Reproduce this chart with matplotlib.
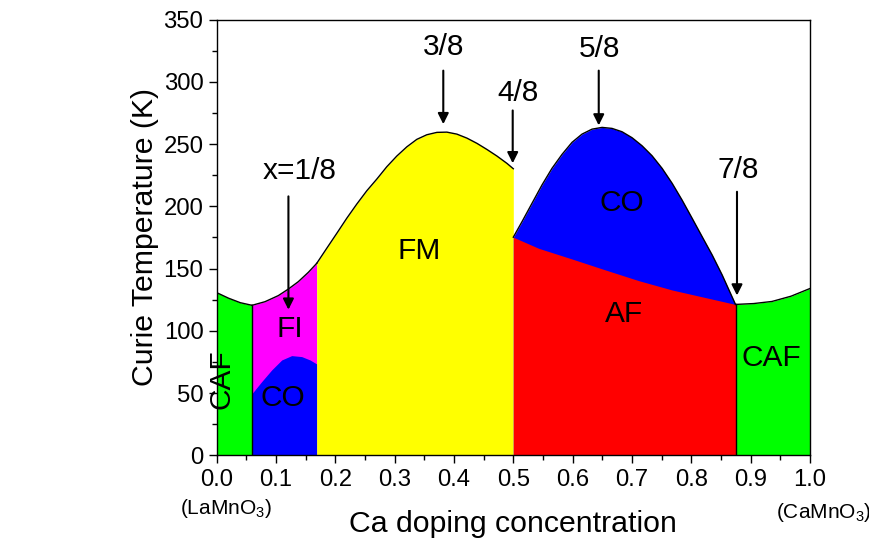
import matplotlib
matplotlib.use("Agg")
import matplotlib.pyplot as plt
from matplotlib.ticker import MultipleLocator

plt.rcParams["font.family"] = ["Liberation Sans", "DejaVu Sans"]
plt.rcParams["mathtext.fontset"] = "custom"
plt.rcParams["mathtext.rm"] = "Liberation Sans"

# Phase boundaries of La(1-x)Ca(x)MnO3: (x, T in K)
caf_left_x = [0.0, 0.0202, 0.0399, 0.0596]
caf_left_t = [130.7, 126.2, 122.6, 120.5]

fi_top_x = [0.0596, 0.0815, 0.104, 0.121, 0.1377, 0.1546, 0.1687]
fi_top_t = [120.5, 123.4, 128.3, 133.6, 139.5, 147.0, 154.2]

co_left_x = [0.0601, 0.0759, 0.0928, 0.1097, 0.1265, 0.1434, 0.1574, 0.1687]
co_left_t = [49.9, 59.2, 68.6, 76.6, 80.1, 79.3, 76.6, 73.4]

fm_top_x = [0.1687, 0.1856, 0.2025, 0.2193, 0.2362, 0.2531, 0.27, 0.2868, 0.3037, 0.3206,
            0.3374, 0.3543, 0.3712, 0.388, 0.4049, 0.4218, 0.4387, 0.4555, 0.4724, 0.4893, 0.5]
fm_top_t = [154.2, 166.3, 178.3, 190.4, 201.8, 212.5, 221.9, 231.8, 240.4, 247.8,
            253.8, 257.5, 259.4, 259.6, 258.0, 254.8, 250.6, 245.7, 240.4, 234.5, 230.2]

co_right_x = [0.5, 0.5146, 0.5315, 0.5483, 0.5652, 0.5821, 0.599, 0.6158, 0.6327, 0.6496, 0.6664,
              0.6833, 0.7002, 0.7171, 0.7339, 0.7508, 0.7677, 0.7845, 0.8014, 0.8183, 0.8352,
              0.852, 0.8745]
co_right_t = [175.2, 187.6, 202.4, 217.1, 230.5, 241.7, 251.4, 258.0, 262.0, 263.4, 262.6,
              259.9, 255.1, 248.6, 240.6, 230.5, 218.5, 205.0, 190.4, 175.6, 160.9,
              144.9, 121.2]

af_top_x = [0.5, 0.5427, 0.599, 0.6552, 0.7114, 0.7677, 0.8239, 0.8745]
af_top_t = [175.2, 166.3, 157.7, 148.9, 140.3, 132.8, 126.7, 121.2]

caf_right_x = [0.8745, 0.905, 0.936, 0.968, 1.0]
caf_right_t = [121.2, 121.9, 123.6, 127.8, 134.0]

# arrows: (x, start T, end T, label, label x, label T)
arrows = [
    (0.121, 208, 117, "x=1/8", 0.139, 228),
    (0.382, 309, 266, "3/8", 0.382, 328),
    (0.499, 277, 234.6, "4/8", 0.508, 291),
    (0.644, 309, 265, "5/8", 0.645, 326),
    (0.877, 211.7, 128.4, "7/8", 0.879, 229),
]

FS = 21.5

fig = plt.figure(figsize=(8.7, 5.44), dpi=100)
ax = fig.add_axes([0.249, 0.163, 0.682, 0.801])

ax.fill_between(caf_left_x, 0, caf_left_t, color="#00ff00", lw=0)
ax.fill_between(fi_top_x, 0, fi_top_t, color="#ff00ff", lw=0)
ax.fill_between(co_left_x, 0, co_left_t, color="#0000ff", lw=0)
ax.fill_between(fm_top_x, 0, fm_top_t, color="#ffff00", lw=0)
ax.fill_between(co_right_x, 0, co_right_t, color="#0000ff", lw=0)
ax.fill_between(af_top_x, 0, af_top_t, color="#ff0000", lw=0)
ax.fill_between(caf_right_x, 0, caf_right_t, color="#00ff00", lw=0)

# outline of the upper envelope
for xs, ts in [(caf_left_x, caf_left_t), (fi_top_x, fi_top_t), (fm_top_x, fm_top_t),
               (co_right_x, co_right_t), (caf_right_x, caf_right_t)]:
    ax.plot(xs, ts, color="k", lw=1)
ax.plot([caf_left_x[-1]] * 2, [0, caf_left_t[-1]], color="k", lw=1)
ax.plot([caf_right_x[0]] * 2, [0, caf_right_t[0]], color="k", lw=1)

for x, t0, t1, lab, lx, lt in arrows:
    ax.annotate("", xy=(x, t1), xytext=(x, t0),
                arrowprops=dict(arrowstyle="-|>", color="k", lw=1.5,
                                mutation_scale=16, shrinkA=0, shrinkB=0))
    ax.text(lx, lt, lab, fontsize=FS, ha="center", va="center")

ax.text(0.341, 164, "FM", fontsize=FS, ha="center", va="center")
ax.text(0.123, 101.5, "FI", fontsize=FS, ha="center", va="center")
ax.text(0.112, 46, "CO", fontsize=FS, ha="center", va="center")
ax.text(0.683, 203, "CO", fontsize=FS, ha="center", va="center")
ax.text(0.686, 113.5, "AF", fontsize=FS, ha="center", va="center")
ax.text(0.935, 78, "CAF", fontsize=FS, ha="center", va="center")
ax.text(0.008, 61, "CAF", fontsize=FS, ha="center", va="center", rotation=90)

ax.set_xlim(0, 1.0)
ax.set_ylim(0, 350)
ax.xaxis.set_major_locator(MultipleLocator(0.1))
ax.xaxis.set_minor_locator(MultipleLocator(0.05))
ax.yaxis.set_major_locator(MultipleLocator(50))
ax.yaxis.set_minor_locator(MultipleLocator(25))
ax.xaxis.set_major_formatter(lambda v, p: f"{v:.1f}")
ax.tick_params(which="major", direction="out", length=6, width=1, labelsize=17.2)
ax.tick_params(which="minor", direction="out", length=3.5, width=1)
for s in ax.spines.values():
    s.set_linewidth(1)

ax.set_xlabel("Ca doping concentration", fontsize=21.8, labelpad=14)
ax.set_ylabel("Curie Temperature (K)", fontsize=21.8, labelpad=3)

fig.text(226 / 870, 1 - 508 / 544, "(LaMnO$_3$)", fontsize=15, ha="center", va="center")
fig.text(824 / 870, 1 - 512 / 544, "(CaMnO$_3$)", fontsize=15, ha="center", va="center")

fig.savefig("out.png", dpi=100)
